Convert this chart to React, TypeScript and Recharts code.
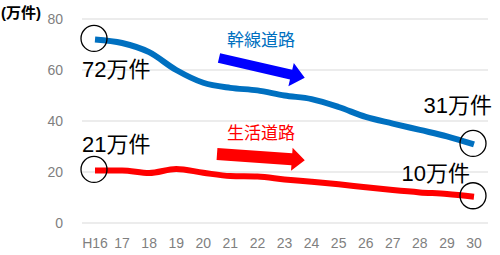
import { LineChart, Line, XAxis, YAxis, CartesianGrid } from "recharts";

const years = ["H16", "17", "18", "19", "20", "21", "22", "23", "24", "25", "26", "27", "28", "29", "30"];
const trunkRoads = [72, 70.6, 67, 60, 55, 53, 52, 50, 48.6, 45.5, 41.6, 39, 36.5, 34, 30.8];
const localRoads = [20.6, 20.6, 19.6, 21.2, 19.7, 18.4, 18.2, 17.1, 16.2, 15.2, 14, 12.9, 12, 11.4, 10.3];
const yTicks = [0, 20, 40, 60, 80];

const data = years.map((year, i) => ({
  year,
  trunk: trunkRoads[i],
  local: localRoads[i],
}));

const FONT = '"Liberation Sans", "Noto Sans CJK JP", sans-serif';
const BLUE = "#0070C0";
const RED = "#FF0000";

type EndLabel = { text: string; dx: number; dy: number; anchor: "start" | "end" };

// circles + value labels on first and last points
const endDot = (first: EndLabel, last: EndLabel) => (props: any) => {
  const { cx, cy, index } = props;
  const lbl = index === 0 ? first : index === years.length - 1 ? last : null;
  if (!lbl) return <g key={`d${index}`} />;
  return (
    <g key={`d${index}`}>
      <circle cx={cx - 1} cy={cy - 1} r={13} fill="none" stroke="#000" strokeWidth={1.3} />
      <text
        x={cx + lbl.dx}
        y={cy + lbl.dy}
        textAnchor={lbl.anchor}
        fontSize={22}
        fontFamily={FONT}
        fill="#000"
      >
        {lbl.text}
      </text>
    </g>
  );
};

function Arrow({ x, y, len, angle, shaft, head, headLen, color }: any) {
  const t = shaft / 2;
  const w = head / 2;
  const b = len - headLen;
  const pts = `0,${-t} ${b},${-t} ${b},${-w} ${len},0 ${b},${w} ${b},${t} 0,${t}`;
  return <polygon points={pts} fill={color} transform={`translate(${x},${y}) rotate(${angle})`} />;
}

export default function App() {
  return (
    <div style={{ position: "absolute", left: 0, top: 0, width: 500, height: 255, background: "#fff" }}>
      <LineChart width={500} height={255} data={data} margin={{ top: 19, right: 12, left: 0, bottom: 2 }}>
        <CartesianGrid vertical={false} stroke="#d9d9d9" />
        <XAxis
          dataKey="year"
          axisLine={false}
          tickLine={false}
          tickMargin={9}
          height={30}
          interval={0}
          padding={{ left: 13, right: 14 }}
          tick={{ fill: "#7f7f7f", fontSize: 14, fontFamily: FONT }}
        />
        <YAxis
          domain={[0, 80]}
          ticks={yTicks}
          axisLine={false}
          tickLine={false}
          tickMargin={13}
          width={82}
          tick={{ fill: "#7f7f7f", fontSize: 14, fontFamily: FONT }}
        />
        <Line
          type="monotone"
          dataKey="trunk"
          stroke={BLUE}
          strokeWidth={6}
          isAnimationActive={false}
          dot={endDot(
            { text: "72万件", dx: -13, dy: 38, anchor: "start" },
            { text: "31万件", dx: 18, dy: -31, anchor: "end" }
          )}
          activeDot={false}
        />
        <Line
          type="monotone"
          dataKey="local"
          stroke={RED}
          strokeWidth={6}
          isAnimationActive={false}
          dot={endDot(
            { text: "21万件", dx: -13, dy: -18, anchor: "start" },
            { text: "10万件", dx: -4, dy: -16, anchor: "end" }
          )}
          activeDot={false}
        />
      </LineChart>
      <svg
        width={500}
        height={255}
        style={{ position: "absolute", left: 0, top: 0, pointerEvents: "none" }}
      >
        <text x={1} y={18} fontSize={15} fontWeight="bold" fontFamily={FONT} fill="#000">
          (万件)
        </text>
        <text x={227} y={46} fontSize={17} fontFamily={FONT} fill={BLUE}>
          幹線道路
        </text>
        <text x={227} y={139} fontSize={17} fontFamily={FONT} fill={RED}>
          生活道路
        </text>
        <Arrow x={219} y={58} len={88} angle={13} shaft={10} head={24} headLen={14} color="#0000FF" />
        <Arrow x={217} y={154} len={88} angle={4} shaft={12} head={23} headLen={13} color={RED} />
      </svg>
    </div>
  );
}
